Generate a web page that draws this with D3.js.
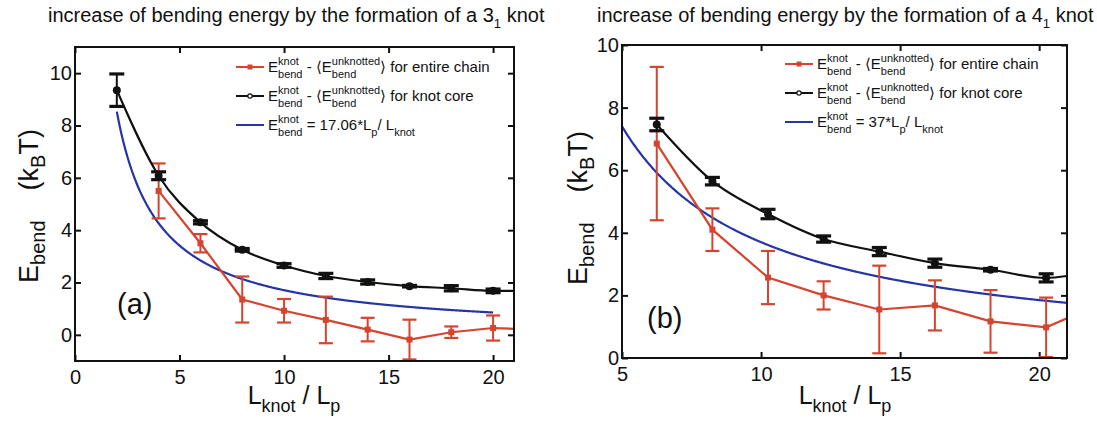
<!DOCTYPE html>
<html>
<head>
<meta charset="utf-8">
<script src="https://cdn.jsdelivr.net/npm/d3@7"></script>
<style>
  body { margin: 0; background: #fff; }
  svg { display: block; }
  text { font-family: "Liberation Sans", Arial, sans-serif; fill: #111; white-space: pre; }
</style>
</head>
<body>
<svg id="fig" width="1097" height="423"></svg>
<script>
// ---------- Panel (a): trefoil 3_1 ----------
const lenCoreA   = [2, 4, 6, 8, 10, 12, 14, 16, 18, 20];
const coreA      = [9.35, 6.08, 4.3, 3.25, 2.65, 2.25, 2.02, 1.86, 1.78, 1.68];
const coreErrA   = [0.62, 0.15, 0.06, 0.05, 0.07, 0.1, 0.08, 0.03, 0.1, 0.07];
const lenChainA  = [4, 6, 8, 10, 12, 14, 16, 18, 20];
const chainA     = [5.5, 3.5, 1.35, 0.92, 0.57, 0.2, -0.18, 0.1, 0.26];
const chainErrA  = [1.05, 0.35, 0.88, 0.45, 0.89, 0.45, 0.76, 0.22, 0.48];
const tailA      = { x: 21, core: 1.68, chain: 0.23 };   // lines run on to the frame
const ampA       = 17.06;                                  // E = ampA * Lp / Lknot
const fitRangeA  = [2, 20];
const xTicksA    = [0, 5, 10, 15, 20];
const yTicksA    = [0, 2, 4, 6, 8, 10];

// ---------- Panel (b): figure-eight 4_1 ----------
const lenB       = [6.25, 8.25, 10.25, 12.25, 14.25, 16.25, 18.25, 20.25];
const coreB      = [7.46, 5.65, 4.6, 3.8, 3.4, 3.03, 2.82, 2.56];
const coreErrB   = [0.2, 0.12, 0.15, 0.1, 0.13, 0.13, 0.04, 0.13];
const chainB     = [6.85, 4.1, 2.57, 2.0, 1.55, 1.68, 1.17, 0.98];
const chainErrB  = [2.45, 0.68, 0.85, 0.45, 1.4, 0.8, 1.0, 0.95];
const tailB      = { x: 21, core: 2.62, chain: 1.27 };
const ampB       = 37;
const fitRangeB  = [5, 21];
const xTicksB    = [5, 10, 15, 20];
const yTicksB    = [0, 2, 4, 6, 8, 10];

const RED = "#d4442e", BLUE = "#2535a6", BLACK = "#111";
const svg = d3.select("#fig");

// Lay out a run of text pieces; stacked pieces put a superscript over a subscript.
function richText(parent, parts) {
  const g = parent.append("g");
  let cx = 0;
  parts.forEach(p => {
    const items = p.stack ? p.stack : [p];
    let w = 0;
    items.forEach(s => {
      const el = g.append("text")
        .attr("x", cx).attr("y", s.dy || 0)
        .attr("font-size", s.size)
        .attr("xml:space", "preserve")
        .text(s.t);
      w = Math.max(w, el.node().getComputedTextLength());
    });
    cx += w;
  });
  return { g, width: cx };
}

function panel(cfg) {
  const x = d3.scaleLinear().domain(cfg.xDomain).range([cfg.left, cfg.right]);
  const y = d3.scaleLinear().domain(cfg.yDomain).range([cfg.bottom, cfg.top]);
  const root = svg.append("g");

  const clipId = "clip-" + cfg.id;
  root.append("clipPath").attr("id", clipId).append("rect")
    .attr("x", cfg.left).attr("y", cfg.top)
    .attr("width", cfg.right - cfg.left).attr("height", cfg.bottom - cfg.top);

  // axes with inward ticks on all four sides
  const tick = 6;
  const styleAxis = sel => {
    sel.select(".domain").remove();
    sel.selectAll(".tick line").attr("stroke", BLACK).attr("stroke-width", 2);
    sel.selectAll("text").attr("font-size", 20).attr("fill", BLACK)
      .attr("font-family", "Liberation Sans, Arial, sans-serif");
  };
  root.append("g").attr("transform", `translate(0,${cfg.bottom})`)
    .call(d3.axisBottom(x).tickValues(cfg.xTicks).tickSize(-tick).tickPadding(6))
    .call(styleAxis).selectAll("text").attr("dy", "0.85em");
  root.append("g").attr("transform", `translate(0,${cfg.top})`)
    .call(d3.axisTop(x).tickValues(cfg.xTicks).tickSize(-tick).tickFormat(""))
    .call(styleAxis);
  root.append("g").attr("transform", `translate(${cfg.left},0)`)
    .call(d3.axisLeft(y).tickValues(cfg.yTicks).tickSize(-tick).tickPadding(3))
    .call(styleAxis);
  root.append("g").attr("transform", `translate(${cfg.right},0)`)
    .call(d3.axisRight(y).tickValues(cfg.yTicks).tickSize(-tick).tickFormat(""))
    .call(styleAxis);

  const plot = root.append("g").attr("clip-path", `url(#${clipId})`);
  const smooth = d3.line().x(d => x(d[0])).y(d => y(d[1])).curve(d3.curveMonotoneX);
  const straight = d3.line().x(d => x(d[0])).y(d => y(d[1]));

  // fitted law E = amp / L
  const fit = d3.range(cfg.fitRange[0], cfg.fitRange[1] + 1e-9, 0.05).map(v => [v, cfg.amp / v]);
  plot.append("path").attr("d", smooth(fit)).attr("fill", "none")
    .attr("stroke", BLUE).attr("stroke-width", 2.2);

  function series(xs, vals, errs, tailX, tailV, color, capW, capS, marker, gen) {
    const pts = xs.map((v, i) => [v, vals[i]]);
    plot.append("path").attr("d", gen(pts.concat([[tailX, tailV]])))
      .attr("fill", "none").attr("stroke", color).attr("stroke-width", 2.2);
    const eb = plot.append("g").attr("stroke", color);
    xs.forEach((v, i) => {
      const px = x(v), lo = y(vals[i] - errs[i]), hi = y(vals[i] + errs[i]);
      eb.append("line").attr("x1", px).attr("x2", px).attr("y1", lo).attr("y2", hi).attr("stroke-width", 2);
      [lo, hi].forEach(py => eb.append("line")
        .attr("x1", px - capW / 2).attr("x2", px + capW / 2)
        .attr("y1", py).attr("y2", py).attr("stroke-width", capS));
    });
    const mk = plot.append("g").attr("fill", color);
    pts.forEach(p => {
      if (marker === "square") {
        mk.append("rect").attr("x", x(p[0]) - 3).attr("y", y(p[1]) - 3).attr("width", 6).attr("height", 6);
      } else {
        mk.append("circle").attr("cx", x(p[0])).attr("cy", y(p[1])).attr("r", 4);
      }
    });
  }
  series(cfg.chainX, cfg.chain, cfg.chainErr, cfg.tail.x, cfg.tail.chain, RED, 14, 2.2, "square", straight);
  series(cfg.coreX, cfg.core, cfg.coreErr, cfg.tail.x, cfg.tail.core, BLACK, 15, 3.2, "circle", smooth);

  // frame
  root.append("rect").attr("x", cfg.left).attr("y", cfg.top)
    .attr("width", cfg.right - cfg.left).attr("height", cfg.bottom - cfg.top)
    .attr("fill", "none").attr("stroke", BLACK).attr("stroke-width", 2);

  // legend
  const L = cfg.legend;
  const rows = [
    { color: RED, marker: "square", tail: " for entire chain" },
    { color: BLACK, marker: "circle", tail: " for knot core" },
    { color: BLUE, marker: null }
  ];
  rows.forEach((r, i) => {
    const ry = L.y + i * L.dy;
    root.append("line").attr("x1", L.x).attr("x2", L.x + L.len)
      .attr("y1", ry).attr("y2", ry).attr("stroke", r.color).attr("stroke-width", 2);
    if (r.marker === "square") {
      root.append("rect").attr("x", L.x + L.len / 2 - 2.5).attr("y", ry - 2.5)
        .attr("width", 5).attr("height", 5).attr("fill", r.color);
    } else if (r.marker === "circle") {
      root.append("circle").attr("cx", L.x + L.len / 2).attr("cy", ry).attr("r", 2.2)
        .attr("fill", "#fff").attr("stroke", r.color).attr("stroke-width", 1.2);
    }
    const big = 15, small = 11, up = -7, down = 6;
    const E = [{ t: "E", size: big }, { stack: [{ t: "knot", size: small, dy: up }, { t: "bend", size: small, dy: down }] }];
    const parts = r.marker
      ? E.concat([{ t: " - \u27E8E", size: big },
                  { stack: [{ t: "unknotted", size: small, dy: up }, { t: "bend", size: small, dy: down }] },
                  { t: "\u27E9" + r.tail, size: big }])
      : E.concat([{ t: " = " + cfg.ampLabel + "*L", size: big },
                  { t: "p", size: small, dy: down },
                  { t: "/ L", size: big },
                  { t: "knot", size: small, dy: down }]);
    const rt = richText(root, parts);
    rt.g.attr("transform", `translate(${L.x + L.len + 4},${ry + 5})`);
  });

  // panel tag
  root.append("text").attr("x", cfg.tag.x).attr("y", cfg.tag.y)
    .attr("font-size", 29).text(cfg.tag.t);

  // title
  const title = richText(root, [
    { t: "increase of bending energy by the formation of a " + cfg.knot[0], size: 20 },
    { t: cfg.knot[1], size: 13, dy: 6 },
    { t: " knot", size: 20 }
  ]);
  title.g.attr("transform", `translate(${cfg.titleX},${cfg.titleY})`);

  // x label
  const xl = richText(root, [
    { t: "L", size: 25 }, { t: "knot", size: 18, dy: 8 },
    { t: " / L", size: 25 }, { t: "p", size: 18, dy: 8 }
  ]);
  xl.g.attr("transform", `translate(${cfg.xLabel[0] - xl.width / 2},${cfg.xLabel[1]})`);

  // y label
  const yl = richText(root, [
    { t: "E", size: 27 }, { t: "bend", size: 20, dy: 7 },
    { t: "    (k", size: 27 }, { t: "B", size: 20, dy: 7 }, { t: "T)", size: 27 }
  ]);
  yl.g.attr("transform", `translate(${cfg.yLabel[0]},${cfg.yLabel[1]}) rotate(-90) translate(${-yl.width / 2},0)`);
}

panel({
  id: "a", left: 75, right: 514, top: 47, bottom: 361,
  xDomain: [0, 21], yDomain: [-1, 11], xTicks: xTicksA, yTicks: yTicksA,
  coreX: lenCoreA, core: coreA, coreErr: coreErrA,
  chainX: lenChainA, chain: chainA, chainErr: chainErrA,
  tail: tailA, amp: ampA, ampLabel: "17.06", fitRange: fitRangeA,
  legend: { x: 236, y: 67, dy: 29, len: 28 },
  tag: { t: "(a)", x: 117, y: 314 },
  knot: ["3", "1"], titleX: 48, titleY: 22,
  xLabel: [294, 404], yLabel: [38, 206]
});

panel({
  id: "b", left: 622, right: 1067, top: 45, bottom: 358,
  xDomain: [5, 21], yDomain: [0, 10], xTicks: xTicksB, yTicks: yTicksB,
  coreX: lenB, core: coreB, coreErr: coreErrB,
  chainX: lenB, chain: chainB, chainErr: chainErrB,
  tail: tailB, amp: ampB, ampLabel: "37", fitRange: fitRangeB,
  legend: { x: 785, y: 64, dy: 29, len: 28 },
  tag: { t: "(b)", x: 647, y: 328 },
  knot: ["4", "1"], titleX: 597, titleY: 22,
  xLabel: [845, 404], yLabel: [587, 208]
});
</script>
</body>
</html>
